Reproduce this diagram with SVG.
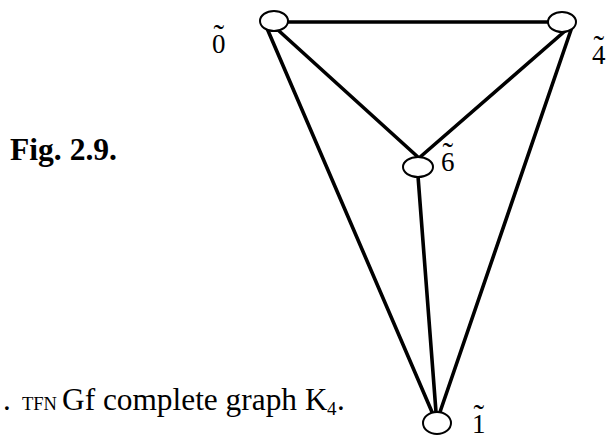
<svg xmlns="http://www.w3.org/2000/svg" width="611" height="436" viewBox="0 0 611 436">
<style>
.edge{stroke:#000;stroke-width:3.6;fill:none;stroke-linecap:round}
.node{stroke:#000;stroke-width:2;fill:#fff}
.lbl{font-family:"Liberation Serif","Times New Roman",serif;font-size:27px;fill:#000}
.cap{font-family:"Liberation Serif","Times New Roman",serif;fill:#000}
</style>
<rect width="611" height="436" fill="#fff"/>
<g id="edges">
<line class="edge" x1="288" y1="22" x2="548" y2="22"/>
<line class="edge" x1="266" y1="26" x2="432" y2="412"/>
<line class="edge" x1="278" y1="30" x2="419" y2="158"/>
<line class="edge" x1="565" y1="31" x2="419" y2="158"/>
<line class="edge" x1="572" y1="27" x2="440" y2="412"/>
<line class="edge" x1="418" y1="176" x2="436" y2="412"/>
</g>
<g id="n0"><ellipse class="node" cx="274" cy="21" rx="14" ry="10"/><text class="lbl" x="212" y="53">0<tspan dx="-12" dy="-7" font-size="32">˜</tspan></text></g>
<g id="n4"><ellipse class="node" cx="562" cy="22" rx="14" ry="10"/><text class="lbl" x="592" y="64">4<tspan dx="-12" dy="-7" font-size="32">˜</tspan></text></g>
<g id="n6"><ellipse class="node" cx="418" cy="167" rx="15" ry="10"/><text class="lbl" x="441" y="171">6<tspan dx="-12" dy="-7" font-size="32">˜</tspan></text></g>
<g id="n1"><ellipse class="node" cx="437" cy="423" rx="14" ry="11"/><text class="lbl" x="472" y="433">1<tspan dx="-12" dy="-7" font-size="32">˜</tspan></text></g>
<text class="cap" x="10" y="160" font-size="31" font-weight="bold" textLength="107" lengthAdjust="spacingAndGlyphs">Fig. 2.9.</text>
<text class="cap" x="3" y="410" font-size="31">.</text>
<text class="cap" x="22" y="410" font-size="18" textLength="35" lengthAdjust="spacingAndGlyphs">TFN</text>
<text class="cap" x="62" y="410" font-size="31" textLength="235" lengthAdjust="spacingAndGlyphs">Gf complete graph</text>
<text class="cap" x="305" y="410" font-size="31">K</text>
<text class="cap" x="327" y="415" font-size="19">4</text>
<text class="cap" x="337" y="410" font-size="31">.</text>
</svg>
